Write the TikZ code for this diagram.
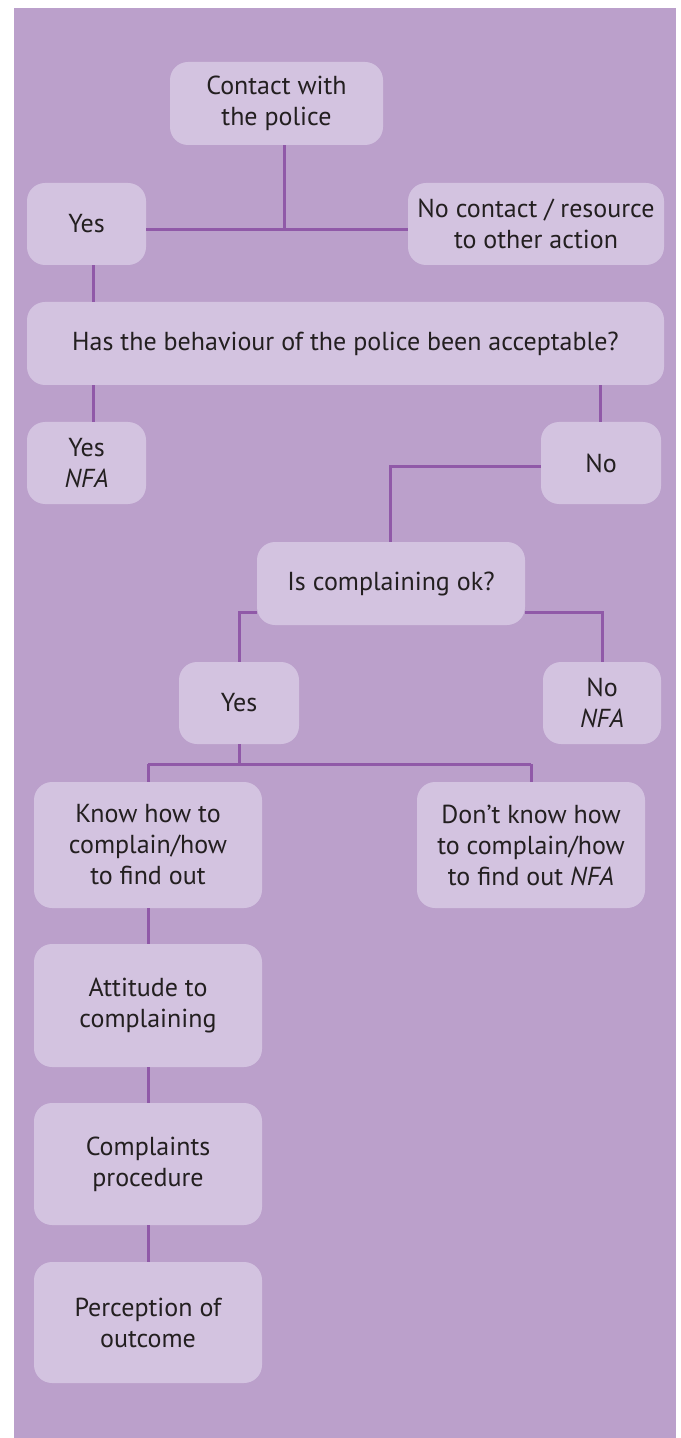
\documentclass[tikz,border=0pt]{standalone}
\usepackage{fontspec}
\setmainfont{PT Sans}
\definecolor{bgpurple}{HTML}{BBA0CB}
\definecolor{boxfill}{HTML}{D3C3E0}
\definecolor{linepurple}{HTML}{9059A8}
\definecolor{txt}{HTML}{231F20}
\tikzset{
  box/.style={fill=boxfill, rounded corners=9pt, align=center, inner sep=0pt,
    text=txt, font=\fontsize{13}{15.5}\selectfont},
  conn/.style={draw=linepurple, line width=1.5pt},
}
\newcommand{\bx}[6]{\node[box, minimum width=#3*0.5pt, minimum height=#4*0.5pt] (#1) at (#2) {#5};}
\begin{document}
\begin{tikzpicture}[x=0.5pt, y=-0.5pt]
\useasboundingbox (0,0) rectangle (680,1438);
\fill[bgpurple] (14,8) rectangle (676,1438);
\coordinate (j1) at (284,230);
\coordinate (c1) at (93,0);
\coordinate (c2) at (600,0);
\coordinate (k1) at (390,466);
\coordinate (k2) at (239,612);
\coordinate (k3) at (602,612);
\coordinate (m1) at (239,764);
\coordinate (m2) at (148,764);
\coordinate (m3) at (531,764);
% boxes
\bx{contact}{276.5,103.5}{213}{83}{Contact with\\the police}{}
\bx{yesa}{86.5,224}{119}{82}{Yes}{}
\bx{nocontact}{536,224}{256}{82}{No contact / resource\\to other action}{}
\bx{behav}{345.5,343.5}{637}{83}{Has the behaviour of the police been acceptable?}{}
\bx{yesnfa}{86.5,463}{119}{82}{Yes\\\textit{NFA}}{}
\bx{noa}{601,463}{120}{82}{No}{}
\bx{iscomp}{391,583.5}{268}{83}{Is complaining ok?}{}
\bx{yesb}{239,703}{120}{82}{Yes}{}
\bx{nonfa}{602,703}{118}{82}{No\\\textit{NFA}}{}
\bx{know}{148,845}{228}{126}{Know how to\\complain/how\\to find out}{}
\bx{dontknow}{531,845}{228}{126}{Don’t know how\\to complain/how\\to find out \textit{NFA}}{}
\bx{attitude}{148,1005.5}{228}{123}{Attitude to\\complaining}{}
\bx{complaints}{148,1164}{228}{122}{Complaints\\procedure}{}
\bx{perception}{148,1322.5}{228}{121}{Perception of\\outcome}{}
% connectors
\draw[conn] (contact.south -| j1) -- (j1);
\draw[conn] (yesa.east |- j1) -- (nocontact.west |- j1);
\draw[conn] (yesa.south -| c1) -- (behav.north -| c1);
\draw[conn] (behav.south -| c1) -- (yesnfa.north -| c1);
\draw[conn] (behav.south -| c2) -- (noa.north -| c2);
\draw[conn] (noa.west |- k1) -- (k1) -- (iscomp.north -| k1);
\draw[conn] (iscomp.west |- k2) -- (k2) -- (yesb.north -| k2);
\draw[conn] (iscomp.east |- k3) -- (k3) -- (nonfa.north -| k3);
\draw[conn] (yesb.south -| m1) -- (m1);
\draw[conn] (m2) -- (m3);
\draw[conn] (m2) -- (know.north -| m2);
\draw[conn] (m3) -- (dontknow.north -| m3);
\draw[conn] (know.south) -- (attitude.north);
\draw[conn] (attitude.south) -- (complaints.north);
\draw[conn] (complaints.south) -- (perception.north);
\end{tikzpicture}
\end{document}
